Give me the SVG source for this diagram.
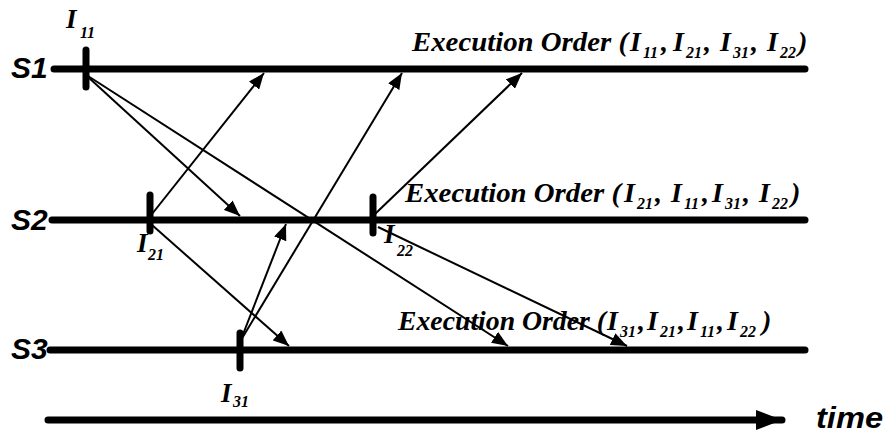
<svg xmlns="http://www.w3.org/2000/svg" width="886" height="438" viewBox="0 0 886 438">
  <style>
    .axis { stroke: #000; stroke-width: 7; stroke-linecap: round; fill: none; }
    .tick { stroke: #000; stroke-width: 7; stroke-linecap: round; }
    .msg { stroke: #000; stroke-width: 2; fill: none; marker-end: url(#head); }
    .site { font-family: "Liberation Sans", Arial, sans-serif; font-weight: bold; font-style: italic; font-size: 30px; fill: #000; }
    .ord { font-family: "Liberation Serif", "Times New Roman", serif; font-weight: bold; font-style: italic; font-size: 28px; fill: #000; }
    .ev { font-family: "Liberation Serif", "Times New Roman", serif; font-weight: bold; font-style: italic; font-size: 27px; fill: #000; }
    .sub { font-size: 16px; }
  </style>
  <defs>
    <marker id="head" viewBox="0 0 16 13" refX="16" refY="6.5" markerWidth="16" markerHeight="13" markerUnits="userSpaceOnUse" orient="auto">
      <path d="M0,0 L16,6.5 L0,13 Z" fill="#000"/>
    </marker>
    <marker id="bighead" viewBox="0 0 26 20" refX="26" refY="10" markerWidth="26" markerHeight="20" markerUnits="userSpaceOnUse" orient="auto">
      <path d="M0,0 L26,10 L0,20 Z" fill="#000"/>
    </marker>
  </defs>

  <!-- site S1 -->
  <g id="s1">
    <text class="site" x="11" y="78">S1</text>
    <line class="axis" x1="54" y1="69" x2="805" y2="69"/>
    <text class="ord" x="412" y="51" textLength="216" lengthAdjust="spacingAndGlyphs">Execution Order (</text>
    <text class="ord" y="51"><tspan x="630">I</tspan><tspan class="sub" x="643" dy="7">11</tspan><tspan x="661" dy="-7">,</tspan><tspan x="673">I</tspan><tspan class="sub" x="686" dy="7">21</tspan><tspan x="704" dy="-7">,</tspan><tspan x="720">I</tspan><tspan class="sub" x="733" dy="7">31</tspan><tspan x="751" dy="-7">,</tspan><tspan x="767">I</tspan><tspan class="sub" x="780" dy="7">22</tspan><tspan x="798" dy="-7">)</tspan></text>
  </g>

  <!-- site S2 -->
  <g id="s2">
    <text class="site" x="11" y="230">S2</text>
    <line class="axis" x1="52" y1="220" x2="805" y2="220"/>
    <text class="ord" x="405" y="202" textLength="216" lengthAdjust="spacingAndGlyphs">Execution Order (</text>
    <text class="ord" y="202"><tspan x="624">I</tspan><tspan class="sub" x="637" dy="7">21</tspan><tspan x="655" dy="-7">,</tspan><tspan x="671">I</tspan><tspan class="sub" x="684" dy="7">11</tspan><tspan x="702" dy="-7">,</tspan><tspan x="712">I</tspan><tspan class="sub" x="725" dy="7">31</tspan><tspan x="743" dy="-7">,</tspan><tspan x="759">I</tspan><tspan class="sub" x="772" dy="7">22</tspan><tspan x="791" dy="-7">)</tspan></text>
  </g>

  <!-- site S3 -->
  <g id="s3">
    <text class="site" x="11" y="359">S3</text>
    <line class="axis" x1="50" y1="350" x2="805" y2="350"/>
    <text class="ord" x="398" y="330" textLength="208" lengthAdjust="spacingAndGlyphs">Execution Order (</text>
    <text class="ord" y="330"><tspan x="607">I</tspan><tspan class="sub" x="620" dy="7">31</tspan><tspan x="638" dy="-7">,</tspan><tspan x="647">I</tspan><tspan class="sub" x="660" dy="7">21</tspan><tspan x="678" dy="-7">,</tspan><tspan x="687">I</tspan><tspan class="sub" x="700" dy="7">11</tspan><tspan x="717" dy="-7">,</tspan><tspan x="727">I</tspan><tspan class="sub" x="740" dy="7">22</tspan><tspan x="762" dy="-7">)</tspan></text>
  </g>

  <!-- events -->
  <g id="i11">
    <line class="tick" x1="86" y1="50" x2="86" y2="87"/>
    <text class="ev" x="66" y="28">I<tspan class="sub" x="80" dy="10">11</tspan></text>
  </g>
  <g id="i21">
    <line class="tick" x1="150" y1="195" x2="150" y2="231"/>
    <text class="ev" x="137" y="252">I<tspan class="sub" x="148" dy="8">21</tspan></text>
  </g>
  <g id="i22">
    <line class="tick" x1="373" y1="197" x2="373" y2="233"/>
    <text class="ev" x="384" y="243">I<tspan class="sub" x="397" dy="13">22</tspan></text>
  </g>
  <g id="i31">
    <line class="tick" x1="240" y1="333" x2="240" y2="368"/>
    <text class="ev" x="221" y="402">I<tspan class="sub" x="233" dy="5">31</tspan></text>
  </g>

  <!-- messages between sites -->
  <g id="connectors">
    <line class="msg" x1="88" y1="77" x2="240" y2="216"/>
    <line class="msg" x1="88" y1="76" x2="508" y2="346"/>
    <line class="msg" x1="152" y1="214" x2="264" y2="73"/>
    <line class="msg" x1="152" y1="225" x2="289" y2="346"/>
    <line class="msg" x1="240" y1="342" x2="286" y2="224"/>
    <line class="msg" x1="241" y1="340" x2="402" y2="73"/>
    <line class="msg" x1="375" y1="214" x2="522" y2="73"/>
    <line class="msg" x1="378" y1="227" x2="627" y2="346"/>
  </g>

  <!-- time axis -->
  <g id="time">
    <line class="axis" x1="48" y1="420" x2="782" y2="420" style="marker-end:url(#bighead)"/>
    <text class="site" x="816" y="428" textLength="67" lengthAdjust="spacingAndGlyphs">time</text>
  </g>
</svg>
